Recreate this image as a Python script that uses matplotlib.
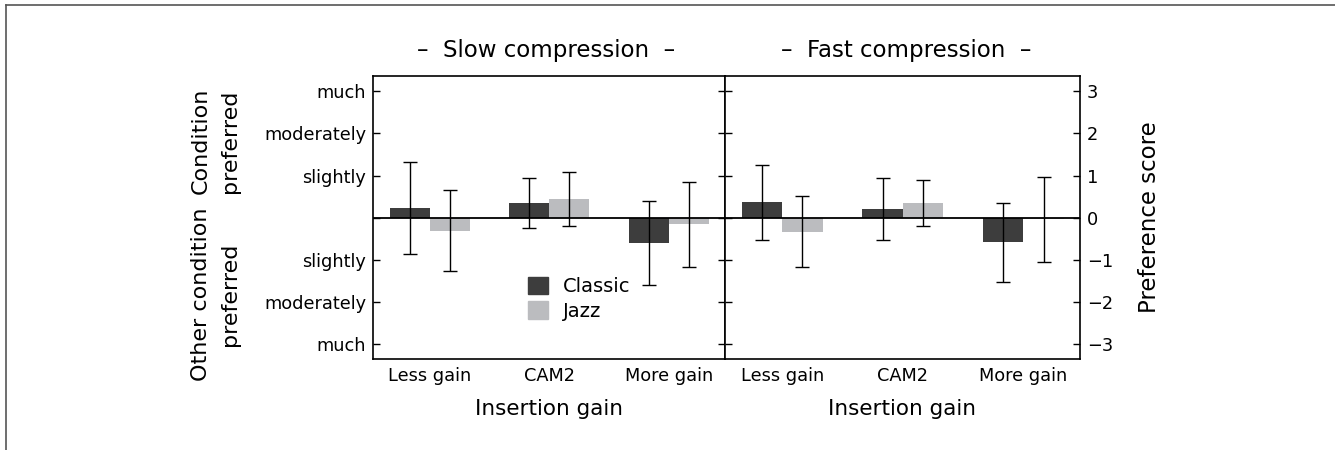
import numpy as np
import matplotlib
matplotlib.use("Agg")
import matplotlib.pyplot as plt
from matplotlib.patches import Patch
from matplotlib.lines import Line2D

plt.rcParams['font.family'] = ['DejaVu Sans']

groups = ["Less gain", "CAM2", "More gain"]
series = ["Classic", "Jazz"]
panels = ["Slow compression", "Fast compression"]

slow_classic = [0.24, 0.35, -0.60]
slow_classic_err = [1.09, 0.60, 1.00]
slow_jazz = [-0.31, 0.445, -0.16]
slow_jazz_err = [0.96, 0.645, 1.01]

fast_classic = [0.365, 0.20, -0.58]
fast_classic_err = [0.895, 0.735, 0.94]
fast_jazz = [-0.33, 0.35, -0.04]
fast_jazz_err = [0.85, 0.55, 1.01]

left_ticklabels = ["much", "moderately", "slightly", "", "slightly", "moderately", "much"]
right_ticklabels = ["3", "2", "1", "0", "\u22121", "\u22122", "\u22123"]
yticks = [3, 2, 1, 0, -1, -2, -3]

colors = {"Classic": "#3d3d3d", "Jazz": "#bbbcbf"}

W, H = 1335, 450
fig = plt.figure(figsize=(W / 100, H / 100), dpi=100)

def fx(px):
    return px / W

def fy(py):
    return 1 - py / H

ax1 = fig.add_axes([fx(373), fy(359), fx(352), fy(76) - fy(359)])
ax2 = fig.add_axes([fx(725), fy(359), fx(355), fy(76) - fy(359)])

data = [
    (slow_classic, slow_classic_err, slow_jazz, slow_jazz_err),
    (fast_classic, fast_classic_err, fast_jazz, fast_jazz_err),
]

TICK = 12.8
LAB = 15.5

bw = 0.335
x = np.arange(len(groups))
for ax, (c, ce, j, je) in zip([ax1, ax2], data):
    ax.bar(x - bw / 2, c, bw, color=colors["Classic"], zorder=2)
    ax.bar(x + bw / 2, j, bw, color=colors["Jazz"], zorder=2)
    ax.errorbar(x - bw / 2, c, yerr=ce, fmt='none', ecolor='black', elinewidth=1,
                capsize=5, capthick=1, zorder=3)
    ax.errorbar(x + bw / 2, j, yerr=je, fmt='none', ecolor='black', elinewidth=1,
                capsize=5, capthick=1, zorder=3)
    ax.axhline(0, color='black', lw=1.3, zorder=4)
    ax.set_xlim(-0.475, 2.47)
    ax.set_ylim(-3.35, 3.36)
    ax.set_xticks(x)
    ax.set_xticklabels(groups, fontsize=TICK)
    ax.tick_params(axis='x', length=0, pad=6)
    ax.set_yticks(yticks)
    ax.tick_params(axis='y', direction='in', length=5, width=1, left=True, right=True, pad=5)
    for s in ax.spines.values():
        s.set_linewidth(1.2)

ax1.set_yticklabels(left_ticklabels, fontsize=TICK)
ax1.tick_params(axis='y', labelleft=True, labelright=False)
ax2.set_yticklabels(right_ticklabels, fontsize=TICK)
ax2.tick_params(axis='y', labelleft=False, labelright=True)
ax2.set_ylabel("Preference score", fontsize=16.5, labelpad=18)
ax2.yaxis.set_label_position('right')

# titles
fig.text(fx(546), fy(50), "\u2013  " + panels[0] + "  \u2013", ha='center', va='center', fontsize=16.5)
fig.text(fx(906), fy(50), "\u2013  " + panels[1] + "  \u2013", ha='center', va='center', fontsize=16.5)
fig.text(fx(549), fy(409), "Insertion gain", ha='center', va='center', fontsize=LAB)
fig.text(fx(902), fy(409), "Insertion gain", ha='center', va='center', fontsize=LAB)

# left labels
fig.text(fx(201), fy(294), "Other condition", rotation=90, ha='center', va='center', fontsize=16)
fig.text(fx(230), fy(294), "preferred", rotation=90, ha='center', va='center', fontsize=16)
fig.text(fx(201), fy(141), "Condition", rotation=90, ha='center', va='center', fontsize=16)
fig.text(fx(230), fy(141), "preferred", rotation=90, ha='center', va='center', fontsize=16)

# legend
handles = [Patch(color=colors[s]) for s in series]
leg = ax1.legend(handles, series, loc='upper left', bbox_to_anchor=((528 - 373) / 352, (359 - 277) / 283),
                 frameon=False, fontsize=14, handlelength=1.05, handleheight=1.0,
                 borderpad=0, borderaxespad=0, handletextpad=0.75, labelspacing=0.25)

# figure frame (partial)
fig.add_artist(Line2D([fx(6), fx(6)], [0, fy(5)], color='#555555', lw=1.2))
fig.add_artist(Line2D([fx(6), 1], [fy(5), fy(5)], color='#555555', lw=1.2))

fig.savefig("out.png", dpi=100)
